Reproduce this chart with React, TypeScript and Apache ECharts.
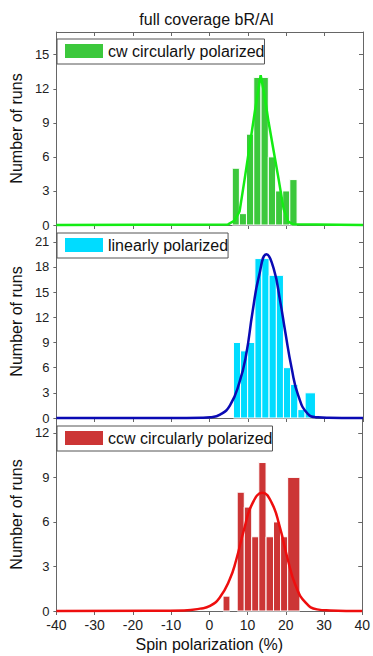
import React, { useEffect, useRef } from 'react';
import * as echarts from 'echarts';

const FONT = '"Liberation Sans", Arial, sans-serif';

// ---- data ----
const xTicks = [-40, 40, 10]; // min, max, interval

const cwName = 'cw circularly polarized';
const cwEdges = [5.9, 7.75, 9.6, 11.5, 13.4, 15.3, 17.2, 19.05, 20.9, 22.8];
const cwCounts = [5, 1, 8, 13, 13, 6, 3, 3, 4];
const cwFit = [
  [-40, 0], [4.8, 0.05], [6.5, 0.4], [7.8, 1.2], [9.1, 4.0], [10.4, 6.9], [11.7, 9.8],
  [13.3, 13.2], [14.2, 11.6], [15.4, 9.0], [16.7, 6.5], [18.0, 4.0], [19.3, 1.4],
  [20.5, 0.3], [21.8, 0.06], [40, 0],
];

const linName = 'linearly polarized';
const linEdges = [6.2, 8.05, 9.9, 11.8, 13.6, 15.5, 17.4, 19.25, 21.1, 23.0, 24.9, 27.6];
const linCounts = [9, 8, 9, 19, 19, 17, 17, 6, 4, 1, 3];
const linFit = [
  [-40, 0], [-10, 0], [-2, 0.02], [0.2, 0.08], [2.7, 0.4], [5.3, 1.5], [7.8, 4.3], [9.5, 7.5],
  [11.2, 12.7], [12.9, 17.0], [14.8, 19.5], [16.7, 17.8], [18.4, 13.9], [19.7, 10.3],
  [21.4, 5.9], [23.1, 2.7], [25.6, 0.5], [28.2, 0.08], [31, 0.02], [38, 0], [40, 0],
];

const ccwName = 'ccw circularly polarized';
const ccwEdges = [3.6, 5.4, 7.3, 9.15, 11.1, 12.95, 14.85, 16.8, 18.65, 20.5, 23.7];
const ccwCounts = [1, 0, 8, 7, 5, 10, 5, 6, 5, 9];
const ccwFit = [
  [-40, 0], [-15, 0.01], [-6.6, 0.04], [-2.4, 0.16], [0.2, 0.34], [2.7, 0.9], [5.3, 2.1],
  [7.0, 3.4], [9.1, 5.5], [11.2, 7.2], [13.9, 7.96], [16.3, 7.3], [18.4, 5.7], [20.5, 3.5],
  [22.6, 1.7], [25.2, 0.56], [28.2, 0.11], [31.6, 0.04], [40, 0],
];

const yMaxes = [17, 23, 13];
const yInterval = 3;

// ---- styling ----
const AXIS = '#666';
const TXT = '#222';

function binData(edges: number[], counts: number[]) {
  return counts
    .map((c, i) => [edges[i], edges[i + 1], c])
    .filter((d) => d[2] > 0);
}

function histSeries(name: string, idx: number, edges: number[], counts: number[], color: string) {
  return {
    type: 'custom',
    name,
    xAxisIndex: idx,
    yAxisIndex: idx,
    itemStyle: { color },
    encode: { x: [0, 1], y: 2 },
    data: binData(edges, counts),
    renderItem: (params: any, api: any) => {
      const p0 = api.coord([api.value(0), api.value(2)]);
      const p1 = api.coord([api.value(1), 0]);
      return {
        type: 'rect',
        shape: { x: p0[0], y: p0[1], width: p1[0] - p0[0], height: p1[1] - p0[1] },
        style: { fill: color, stroke: '#ffffff', lineWidth: 1 },
      };
    },
  };
}

function fitSeries(name: string, idx: number, data: number[][], color: string, smooth: number) {
  return {
    type: 'line',
    name,
    xAxisIndex: idx,
    yAxisIndex: idx,
    data,
    showSymbol: false,
    smooth,
    clip: false,
    lineStyle: { color, width: 2.5 },
    itemStyle: { color },
    z: 3,
  };
}

function legend(name: string, top: number) {
  return {
    show: true,
    left: 57,
    top,
    orient: 'horizontal',
    data: [name],
    icon: 'rect',
    itemWidth: 38,
    itemHeight: 14,
    padding: [4, 0, 5, 8],
    borderColor: '#555',
    borderWidth: 1,
    selectedMode: false,
    textStyle: { fontSize: 16, color: '#111', fontFamily: FONT },
  };
}

const grids = [32, 225, 418].map((top) => ({ left: 50, width: 313, top, height: 193 }));

function bottomX(idx: number, labels: boolean) {
  return {
    type: 'value',
    gridIndex: idx,
    position: 'bottom',
    min: xTicks[0],
    max: xTicks[1],
    interval: xTicks[2],
    axisLine: { show: true, onZero: false, lineStyle: { color: AXIS, width: 1 } },
    axisTick: { show: true, inside: false, length: 4, lineStyle: { color: AXIS } },
    axisLabel: { show: labels, fontSize: 14, color: TXT, margin: 7, fontFamily: FONT },
    splitLine: { show: false },
    name: labels ? 'Spin polarization (%)' : '',
    nameLocation: 'middle',
    nameGap: 25,
    nameTextStyle: { fontSize: 16, color: '#111', fontFamily: FONT },
  };
}

function leftY(idx: number) {
  return {
    type: 'value',
    gridIndex: idx,
    position: 'left',
    min: 0,
    max: yMaxes[idx],
    interval: yInterval,
    axisLine: { show: true, onZero: false, lineStyle: { color: AXIS, width: 1 } },
    axisTick: { show: true, inside: false, length: 3, lineStyle: { color: AXIS } },
    axisLabel: {
      show: true,
      fontSize: 13,
      color: TXT,
      margin: 7,
      fontFamily: FONT,
      showMaxLabel: false,
      formatter: (v: number) => (v % yInterval === 0 ? String(v) : ''),
    },
    splitLine: { show: false },
    name: 'Number of runs',
    nameLocation: 'middle',
    nameGap: 22,
    nameTextStyle: { fontSize: 16, color: '#111', fontFamily: FONT },
  };
}

function rightY(idx: number) {
  return {
    type: 'value',
    gridIndex: idx,
    position: 'right',
    min: 0,
    max: yMaxes[idx],
    interval: yInterval,
    axisLine: { show: true, onZero: false, lineStyle: { color: AXIS, width: 1 } },
    axisTick: { show: true, inside: true, length: 4, lineStyle: { color: AXIS } },
    axisLabel: { show: false },
    splitLine: { show: false },
  };
}

const option: any = {
  animation: false,
  textStyle: { fontFamily: FONT },
  grid: grids,
  graphic: [
    {
      type: 'text',
      style: {
        text: 'full coverage bR/Al',
        x: 206.5,
        y: 11,
        align: 'center',
        verticalAlign: 'top',
        fontSize: 16,
        fontFamily: FONT,
        fill: '#111',
      },
    },
  ],
  legend: [legend(cwName, 39), legend(linName, 233), legend(ccwName, 426)],
  xAxis: [
    bottomX(0, false),
    bottomX(1, false),
    bottomX(2, true),
    {
      type: 'value',
      gridIndex: 0,
      position: 'top',
      min: xTicks[0],
      max: xTicks[1],
      interval: xTicks[2],
      axisLine: { show: true, onZero: false, lineStyle: { color: AXIS, width: 1 } },
      axisTick: { show: true, inside: true, length: 4, lineStyle: { color: AXIS } },
      axisLabel: { show: false },
      splitLine: { show: false },
    },
  ],
  yAxis: [leftY(0), leftY(1), leftY(2), rightY(0), rightY(1), rightY(2)],
  series: [
    histSeries(cwName, 0, cwEdges, cwCounts, '#3cc83c'),
    fitSeries('cw fit', 0, cwFit, '#14ec14', 0),
    histSeries(linName, 1, linEdges, linCounts, '#00dcff'),
    fitSeries('linear fit', 1, linFit, '#0a0ab4', 0.5),
    histSeries(ccwName, 2, ccwEdges, ccwCounts, '#cc3535'),
    fitSeries('ccw fit', 2, ccwFit, '#ee0e0e', 0.5),
  ],
};

export default function App() {
  const ref = useRef<HTMLDivElement>(null);
  useEffect(() => {
    const chart = echarts.init(ref.current as HTMLDivElement, null, { renderer: 'svg' });
    chart.setOption(option);
    return () => chart.dispose();
  }, []);
  return (
    <div
      ref={ref}
      style={{ position: 'fixed', left: 0, top: 0, width: 373, height: 656, background: '#fff' }}
    />
  );
}
